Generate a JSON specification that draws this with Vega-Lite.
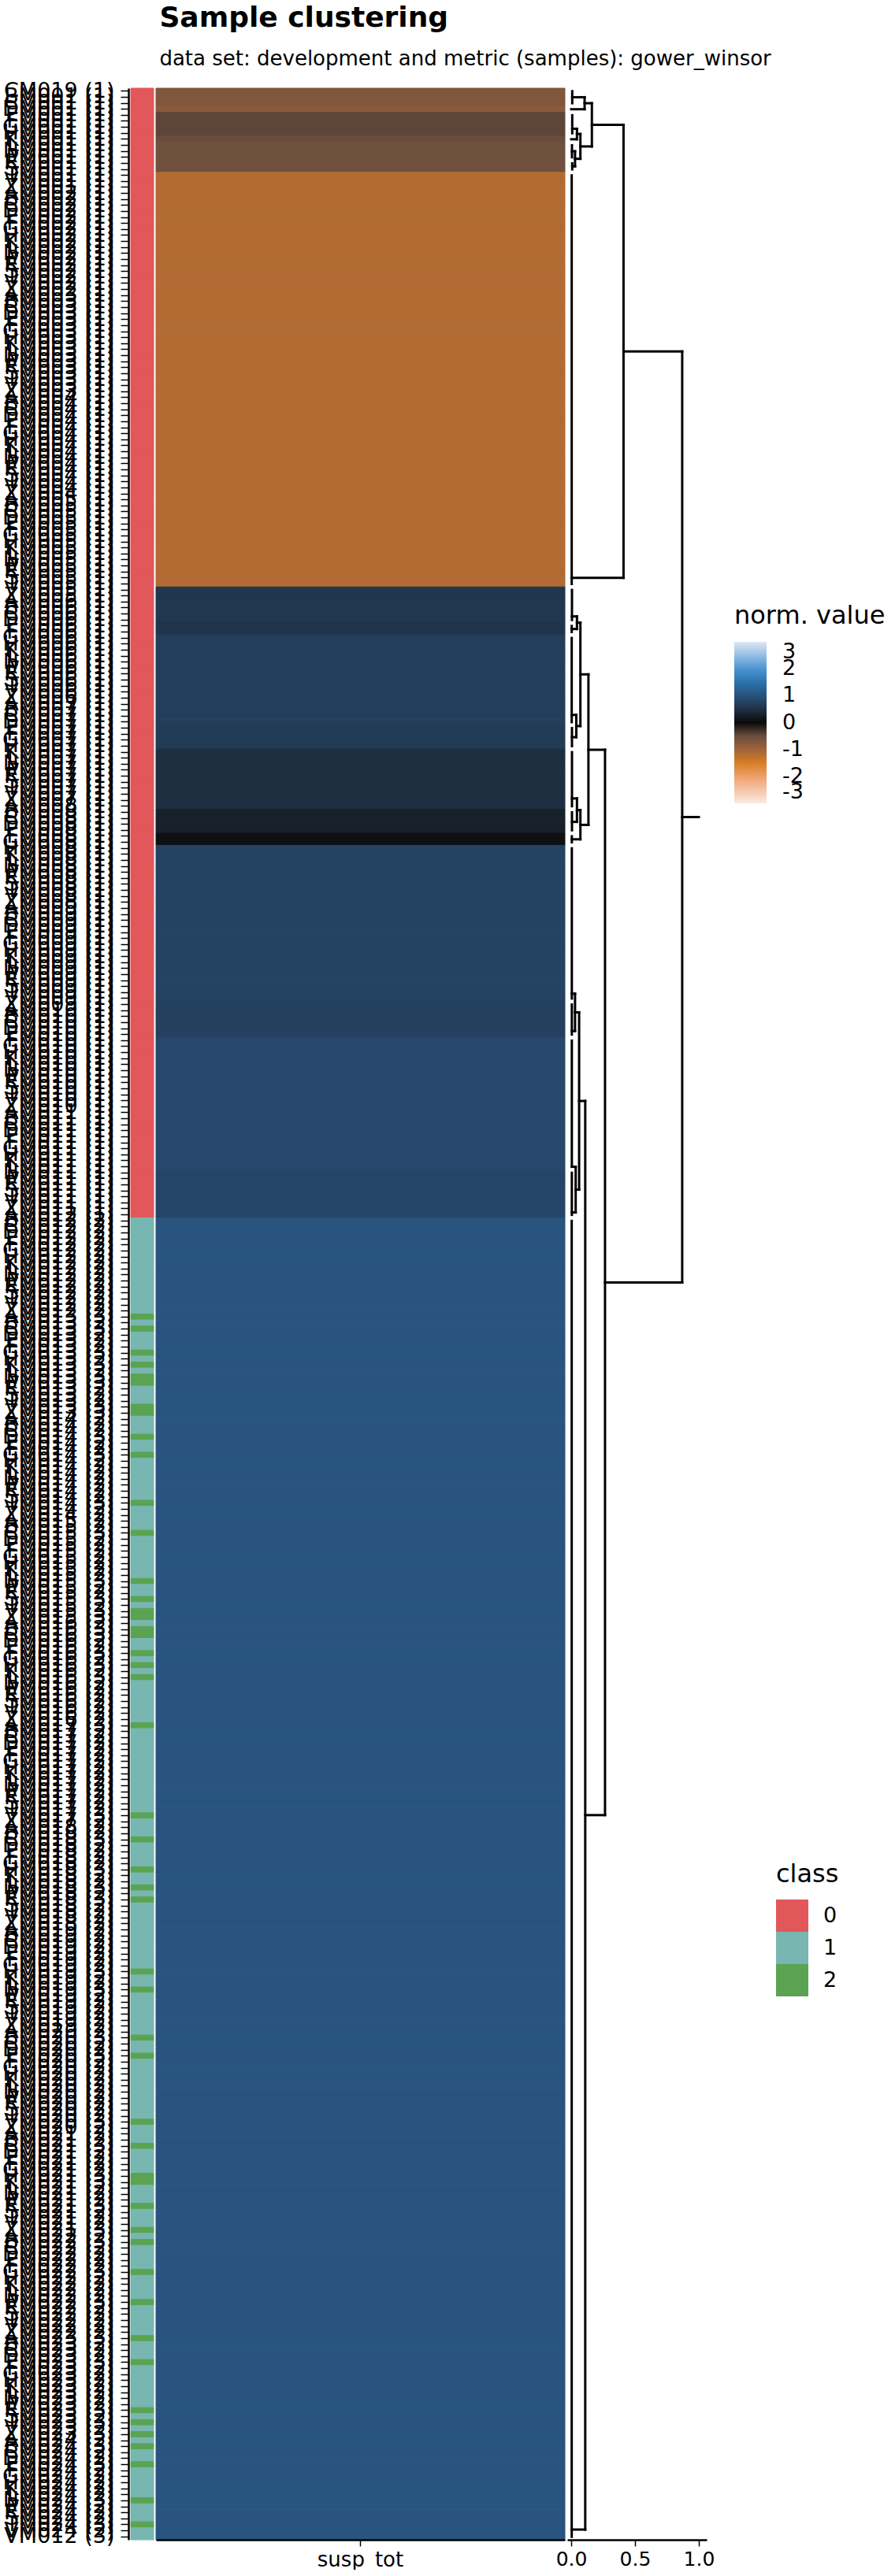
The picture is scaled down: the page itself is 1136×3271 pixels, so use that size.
{
"$schema": "https://vega.github.io/schema/vega-lite/v6.json",
"background": "white",
"padding": {"left": 2, "top": 5, "right": 0, "bottom": 0},
"title": {"text": "Sample clustering", "subtitle": "data set: development and metric (samples): gower_winsor", "anchor": "start", "frame": "bounds", "dx": 200, "offset": 12, "fontSize": 36, "fontWeight": "bold", "font": "DejaVu Sans", "color": "black", "subtitleFont": "DejaVu Sans", "subtitleFontSize": 26, "subtitleColor": "black", "subtitlePadding": 20},
"datasets": {
"samples": [
{"s":"CM019 (1)","c":"0","v":-0.7},{"s":"BM001 (1)","c":"0","v":-0.7},{"s":"CM001 (1)","c":"0","v":-0.7},{"s":"DM001 (1)","c":"0","v":-0.8},{"s":"EM001 (1)","c":"0","v":-0.44},{"s":"FM001 (1)","c":"0","v":-0.44},{"s":"GM001 (1)","c":"0","v":-0.44},{"s":"HM001 (1)","c":"0","v":-0.44},{"s":"KM001 (1)","c":"0","v":-0.5},{"s":"LM001 (1)","c":"0","v":-0.56},{"s":"NM001 (1)","c":"0","v":-0.56},{"s":"PM001 (1)","c":"0","v":-0.56},{"s":"RM001 (1)","c":"0","v":-0.56},{"s":"SM001 (1)","c":"0","v":-0.56},{"s":"TM001 (1)","c":"0","v":-1.15},{"s":"VM001 (1)","c":"0","v":-1.15},{"s":"ZM001 (1)","c":"0","v":-1.15},
{"s":"AM002 (1)","c":"0","v":-1.15},{"s":"BM002 (1)","c":"0","v":-1.15},{"s":"CM002 (1)","c":"0","v":-1.15},{"s":"DM002 (1)","c":"0","v":-1.15},{"s":"EM002 (1)","c":"0","v":-1.15},{"s":"FM002 (1)","c":"0","v":-1.15},{"s":"GM002 (1)","c":"0","v":-1.15},{"s":"HM002 (1)","c":"0","v":-1.15},{"s":"KM002 (1)","c":"0","v":-1.15},{"s":"LM002 (1)","c":"0","v":-1.15},{"s":"NM002 (1)","c":"0","v":-1.15},{"s":"PM002 (1)","c":"0","v":-1.15},{"s":"RM002 (1)","c":"0","v":-1.15},{"s":"SM002 (1)","c":"0","v":-1.15},{"s":"TM002 (1)","c":"0","v":-1.15},{"s":"VM002 (1)","c":"0","v":-1.15},{"s":"ZM002 (1)","c":"0","v":-1.15},
{"s":"AM003 (1)","c":"0","v":-1.15},{"s":"BM003 (1)","c":"0","v":-1.15},{"s":"CM003 (1)","c":"0","v":-1.15},{"s":"DM003 (1)","c":"0","v":-1.15},{"s":"EM003 (1)","c":"0","v":-1.15},{"s":"FM003 (1)","c":"0","v":-1.15},{"s":"GM003 (1)","c":"0","v":-1.15},{"s":"HM003 (1)","c":"0","v":-1.15},{"s":"KM003 (1)","c":"0","v":-1.15},{"s":"LM003 (1)","c":"0","v":-1.15},{"s":"NM003 (1)","c":"0","v":-1.15},{"s":"PM003 (1)","c":"0","v":-1.15},{"s":"RM003 (1)","c":"0","v":-1.15},{"s":"SM003 (1)","c":"0","v":-1.15},{"s":"TM003 (1)","c":"0","v":-1.15},{"s":"VM003 (1)","c":"0","v":-1.15},{"s":"ZM003 (1)","c":"0","v":-1.15},
{"s":"AM004 (1)","c":"0","v":-1.15},{"s":"BM004 (1)","c":"0","v":-1.15},{"s":"CM004 (1)","c":"0","v":-1.15},{"s":"DM004 (1)","c":"0","v":-1.15},{"s":"EM004 (1)","c":"0","v":-1.15},{"s":"FM004 (1)","c":"0","v":-1.15},{"s":"GM004 (1)","c":"0","v":-1.15},{"s":"HM004 (1)","c":"0","v":-1.15},{"s":"KM004 (1)","c":"0","v":-1.15},{"s":"LM004 (1)","c":"0","v":-1.15},{"s":"NM004 (1)","c":"0","v":-1.15},{"s":"PM004 (1)","c":"0","v":-1.15},{"s":"RM004 (1)","c":"0","v":-1.15},{"s":"SM004 (1)","c":"0","v":-1.15},{"s":"TM004 (1)","c":"0","v":-1.15},{"s":"VM004 (1)","c":"0","v":-1.15},{"s":"ZM004 (1)","c":"0","v":-1.15},
{"s":"AM005 (1)","c":"0","v":-1.15},{"s":"BM005 (1)","c":"0","v":-1.15},{"s":"CM005 (1)","c":"0","v":-1.15},{"s":"DM005 (1)","c":"0","v":-1.15},{"s":"EM005 (1)","c":"0","v":-1.15},{"s":"FM005 (1)","c":"0","v":-1.15},{"s":"GM005 (1)","c":"0","v":-1.15},{"s":"HM005 (1)","c":"0","v":-1.15},{"s":"KM005 (1)","c":"0","v":-1.15},{"s":"LM005 (1)","c":"0","v":-1.15},{"s":"NM005 (1)","c":"0","v":-1.15},{"s":"PM005 (1)","c":"0","v":-1.15},{"s":"RM005 (1)","c":"0","v":-1.15},{"s":"SM005 (1)","c":"0","v":-1.15},{"s":"TM005 (1)","c":"0","v":-1.15},{"s":"VM005 (1)","c":"0","v":0.6},{"s":"ZM005 (1)","c":"0","v":0.6},
{"s":"AM006 (1)","c":"0","v":0.6},{"s":"BM006 (1)","c":"0","v":0.6},{"s":"CM006 (1)","c":"0","v":0.6},{"s":"DM006 (1)","c":"0","v":0.6},{"s":"EM006 (1)","c":"0","v":0.55},{"s":"FM006 (1)","c":"0","v":0.55},{"s":"GM006 (1)","c":"0","v":0.7},{"s":"HM006 (1)","c":"0","v":0.7},{"s":"KM006 (1)","c":"0","v":0.7},{"s":"LM006 (1)","c":"0","v":0.7},{"s":"NM006 (1)","c":"0","v":0.7},{"s":"PM006 (1)","c":"0","v":0.7},{"s":"RM006 (1)","c":"0","v":0.7},{"s":"SM006 (1)","c":"0","v":0.7},{"s":"TM006 (1)","c":"0","v":0.7},{"s":"VM006 (1)","c":"0","v":0.7},{"s":"ZM006 (1)","c":"0","v":0.7},
{"s":"AM007 (1)","c":"0","v":0.7},{"s":"BM007 (1)","c":"0","v":0.7},{"s":"CM007 (1)","c":"0","v":0.7},{"s":"DM007 (1)","c":"0","v":0.7},{"s":"EM007 (1)","c":"0","v":0.65},{"s":"FM007 (1)","c":"0","v":0.65},{"s":"GM007 (1)","c":"0","v":0.65},{"s":"HM007 (1)","c":"0","v":0.65},{"s":"KM007 (1)","c":"0","v":0.47},{"s":"LM007 (1)","c":"0","v":0.47},{"s":"NM007 (1)","c":"0","v":0.47},{"s":"PM007 (1)","c":"0","v":0.47},{"s":"RM007 (1)","c":"0","v":0.47},{"s":"SM007 (1)","c":"0","v":0.47},{"s":"TM007 (1)","c":"0","v":0.47},{"s":"VM007 (1)","c":"0","v":0.47},{"s":"ZM007 (1)","c":"0","v":0.47},
{"s":"AM008 (1)","c":"0","v":0.47},{"s":"BM008 (1)","c":"0","v":0.27},{"s":"CM008 (1)","c":"0","v":0.27},{"s":"DM008 (1)","c":"0","v":0.27},{"s":"EM008 (1)","c":"0","v":0.27},{"s":"FM008 (1)","c":"0","v":0.08},{"s":"GM008 (1)","c":"0","v":0.08},{"s":"HM008 (1)","c":"0","v":0.76},{"s":"KM008 (1)","c":"0","v":0.76},{"s":"LM008 (1)","c":"0","v":0.76},{"s":"NM008 (1)","c":"0","v":0.76},{"s":"PM008 (1)","c":"0","v":0.76},{"s":"RM008 (1)","c":"0","v":0.76},{"s":"SM008 (1)","c":"0","v":0.76},{"s":"TM008 (1)","c":"0","v":0.76},{"s":"VM008 (1)","c":"0","v":0.76},{"s":"ZM008 (1)","c":"0","v":0.76},
{"s":"AM009 (1)","c":"0","v":0.76},{"s":"BM009 (1)","c":"0","v":0.76},{"s":"CM009 (1)","c":"0","v":0.76},{"s":"DM009 (1)","c":"0","v":0.76},{"s":"EM009 (1)","c":"0","v":0.76},{"s":"FM009 (1)","c":"0","v":0.76},{"s":"GM009 (1)","c":"0","v":0.76},{"s":"HM009 (1)","c":"0","v":0.76},{"s":"KM009 (1)","c":"0","v":0.76},{"s":"LM009 (1)","c":"0","v":0.76},{"s":"NM009 (1)","c":"0","v":0.76},{"s":"PM009 (1)","c":"0","v":0.76},{"s":"RM009 (1)","c":"0","v":0.76},{"s":"SM009 (1)","c":"0","v":0.76},{"s":"TM009 (1)","c":"0","v":0.76},{"s":"VM009 (1)","c":"0","v":0.76},{"s":"ZM009 (1)","c":"0","v":0.73},
{"s":"AM010 (1)","c":"0","v":0.73},{"s":"BM010 (1)","c":"0","v":0.73},{"s":"CM010 (1)","c":"0","v":0.73},{"s":"DM010 (1)","c":"0","v":0.73},{"s":"EM010 (1)","c":"0","v":0.73},{"s":"FM010 (1)","c":"0","v":0.85},{"s":"GM010 (1)","c":"0","v":0.85},{"s":"HM010 (1)","c":"0","v":0.85},{"s":"KM010 (1)","c":"0","v":0.85},{"s":"LM010 (1)","c":"0","v":0.85},{"s":"NM010 (1)","c":"0","v":0.85},{"s":"PM010 (1)","c":"0","v":0.85},{"s":"RM010 (1)","c":"0","v":0.85},{"s":"SM010 (1)","c":"0","v":0.85},{"s":"TM010 (1)","c":"0","v":0.85},{"s":"VM010 (1)","c":"0","v":0.85},{"s":"ZM010 (1)","c":"0","v":0.85},
{"s":"AM011 (1)","c":"0","v":0.85},{"s":"BM011 (1)","c":"0","v":0.85},{"s":"CM011 (1)","c":"0","v":0.85},{"s":"DM011 (1)","c":"0","v":0.85},{"s":"EM011 (1)","c":"0","v":0.85},{"s":"FM011 (1)","c":"0","v":0.85},{"s":"GM011 (1)","c":"0","v":0.85},{"s":"HM011 (1)","c":"0","v":0.85},{"s":"KM011 (1)","c":"0","v":0.85},{"s":"LM011 (1)","c":"0","v":0.85},{"s":"NM011 (1)","c":"0","v":0.8},{"s":"PM011 (1)","c":"0","v":0.8},{"s":"RM011 (1)","c":"0","v":0.8},{"s":"SM011 (1)","c":"0","v":0.8},{"s":"TM011 (1)","c":"0","v":0.8},{"s":"VM011 (1)","c":"0","v":0.8},{"s":"ZM011 (1)","c":"0","v":0.8},
{"s":"AM012 (1)","c":"0","v":0.8},{"s":"BM012 (2)","c":"1","v":1.03},{"s":"CM012 (2)","c":"1","v":1.03},{"s":"DM012 (2)","c":"1","v":1.03},{"s":"EM012 (2)","c":"1","v":1.03},{"s":"FM012 (2)","c":"1","v":1.03},{"s":"GM012 (2)","c":"1","v":1.03},{"s":"HM012 (2)","c":"1","v":1.03},{"s":"KM012 (2)","c":"1","v":1.03},{"s":"LM012 (2)","c":"1","v":1.03},{"s":"NM012 (2)","c":"1","v":1.03},{"s":"PM012 (2)","c":"1","v":1.03},{"s":"RM012 (2)","c":"1","v":1.03},{"s":"SM012 (2)","c":"1","v":1.03},{"s":"TM012 (2)","c":"1","v":1.03},{"s":"VM012 (2)","c":"1","v":1.03},{"s":"ZM012 (2)","c":"1","v":1.03},
{"s":"AM013 (3)","c":"2","v":1.03},{"s":"BM013 (2)","c":"1","v":1.03},{"s":"CM013 (3)","c":"2","v":1.03},{"s":"DM013 (2)","c":"1","v":1.03},{"s":"EM013 (2)","c":"1","v":1.03},{"s":"FM013 (2)","c":"1","v":1.03},{"s":"GM013 (3)","c":"2","v":1.03},{"s":"HM013 (2)","c":"1","v":1.03},{"s":"KM013 (3)","c":"2","v":1.03},{"s":"LM013 (2)","c":"1","v":1.03},{"s":"NM013 (3)","c":"2","v":1.03},{"s":"PM013 (3)","c":"2","v":1.03},{"s":"RM013 (2)","c":"1","v":1.03},{"s":"SM013 (2)","c":"1","v":1.03},{"s":"TM013 (2)","c":"1","v":1.03},{"s":"VM013 (3)","c":"2","v":1.03},{"s":"ZM013 (3)","c":"2","v":1.03},
{"s":"AM014 (2)","c":"1","v":1.03},{"s":"BM014 (2)","c":"1","v":1.03},{"s":"CM014 (2)","c":"1","v":1.03},{"s":"DM014 (3)","c":"2","v":1.03},{"s":"EM014 (2)","c":"1","v":1.03},{"s":"FM014 (2)","c":"1","v":1.03},{"s":"GM014 (3)","c":"2","v":1.03},{"s":"HM014 (2)","c":"1","v":1.03},{"s":"KM014 (2)","c":"1","v":1.03},{"s":"LM014 (2)","c":"1","v":1.03},{"s":"NM014 (2)","c":"1","v":1.03},{"s":"PM014 (2)","c":"1","v":1.03},{"s":"RM014 (2)","c":"1","v":1.03},{"s":"SM014 (2)","c":"1","v":1.03},{"s":"TM014 (3)","c":"2","v":1.03},{"s":"VM014 (2)","c":"1","v":1.03},{"s":"ZM014 (2)","c":"1","v":1.03},
{"s":"AM015 (2)","c":"1","v":1.03},{"s":"BM015 (2)","c":"1","v":1.03},{"s":"CM015 (3)","c":"2","v":1.03},{"s":"DM015 (2)","c":"1","v":1.03},{"s":"EM015 (2)","c":"1","v":1.03},{"s":"FM015 (2)","c":"1","v":1.03},{"s":"GM015 (2)","c":"1","v":1.03},{"s":"HM015 (2)","c":"1","v":1.03},{"s":"KM015 (2)","c":"1","v":1.03},{"s":"LM015 (2)","c":"1","v":1.03},{"s":"NM015 (3)","c":"2","v":1.03},{"s":"PM015 (2)","c":"1","v":1.03},{"s":"RM015 (2)","c":"1","v":1.03},{"s":"SM015 (3)","c":"2","v":1.03},{"s":"TM015 (2)","c":"1","v":1.03},{"s":"VM015 (3)","c":"2","v":1.03},{"s":"ZM015 (3)","c":"2","v":1.03},
{"s":"AM016 (2)","c":"1","v":1.03},{"s":"BM016 (3)","c":"2","v":1.03},{"s":"CM016 (3)","c":"2","v":1.03},{"s":"DM016 (2)","c":"1","v":1.03},{"s":"EM016 (2)","c":"1","v":1.03},{"s":"FM016 (3)","c":"2","v":1.03},{"s":"GM016 (2)","c":"1","v":1.03},{"s":"HM016 (3)","c":"2","v":1.03},{"s":"KM016 (2)","c":"1","v":1.03},{"s":"LM016 (3)","c":"2","v":1.03},{"s":"NM016 (2)","c":"1","v":1.03},{"s":"PM016 (2)","c":"1","v":1.03},{"s":"RM016 (2)","c":"1","v":1.03},{"s":"SM016 (2)","c":"1","v":1.03},{"s":"TM016 (2)","c":"1","v":1.03},{"s":"VM016 (2)","c":"1","v":1.03},{"s":"ZM016 (2)","c":"1","v":1.03},
{"s":"AM017 (3)","c":"2","v":1.03},{"s":"BM017 (2)","c":"1","v":1.03},{"s":"CM017 (2)","c":"1","v":1.03},{"s":"DM017 (2)","c":"1","v":1.03},{"s":"EM017 (2)","c":"1","v":1.03},{"s":"FM017 (2)","c":"1","v":1.03},{"s":"GM017 (2)","c":"1","v":1.03},{"s":"HM017 (2)","c":"1","v":1.03},{"s":"KM017 (2)","c":"1","v":1.03},{"s":"LM017 (2)","c":"1","v":1.03},{"s":"NM017 (2)","c":"1","v":1.03},{"s":"PM017 (2)","c":"1","v":1.03},{"s":"RM017 (2)","c":"1","v":1.03},{"s":"SM017 (2)","c":"1","v":1.03},{"s":"TM017 (2)","c":"1","v":1.03},{"s":"VM017 (3)","c":"2","v":1.03},{"s":"ZM017 (2)","c":"1","v":1.03},
{"s":"AM018 (2)","c":"1","v":1.03},{"s":"BM018 (2)","c":"1","v":1.03},{"s":"CM018 (3)","c":"2","v":1.03},{"s":"DM018 (2)","c":"1","v":1.03},{"s":"EM018 (2)","c":"1","v":1.03},{"s":"FM018 (2)","c":"1","v":1.03},{"s":"GM018 (2)","c":"1","v":1.03},{"s":"HM018 (3)","c":"2","v":1.03},{"s":"KM018 (2)","c":"1","v":1.03},{"s":"LM018 (2)","c":"1","v":1.03},{"s":"NM018 (3)","c":"2","v":1.03},{"s":"PM018 (2)","c":"1","v":1.03},{"s":"RM018 (3)","c":"2","v":1.03},{"s":"SM018 (2)","c":"1","v":1.03},{"s":"TM018 (2)","c":"1","v":1.03},{"s":"VM018 (2)","c":"1","v":1.03},{"s":"ZM018 (2)","c":"1","v":1.03},
{"s":"AM019 (2)","c":"1","v":1.03},{"s":"BM019 (2)","c":"1","v":1.03},{"s":"CM019 (2)","c":"1","v":1.03},{"s":"DM019 (2)","c":"1","v":1.03},{"s":"EM019 (2)","c":"1","v":1.03},{"s":"FM019 (2)","c":"1","v":1.03},{"s":"GM019 (2)","c":"1","v":1.03},{"s":"HM019 (3)","c":"2","v":1.03},{"s":"KM019 (2)","c":"1","v":1.03},{"s":"LM019 (2)","c":"1","v":1.03},{"s":"NM019 (3)","c":"2","v":1.03},{"s":"PM019 (2)","c":"1","v":1.03},{"s":"RM019 (2)","c":"1","v":1.03},{"s":"SM019 (2)","c":"1","v":1.03},{"s":"TM019 (2)","c":"1","v":1.03},{"s":"VM019 (2)","c":"1","v":1.03},{"s":"ZM019 (2)","c":"1","v":1.03},
{"s":"AM020 (2)","c":"1","v":1.03},{"s":"BM020 (3)","c":"2","v":1.03},{"s":"CM020 (2)","c":"1","v":1.03},{"s":"DM020 (2)","c":"1","v":1.03},{"s":"EM020 (3)","c":"2","v":1.03},{"s":"FM020 (2)","c":"1","v":1.03},{"s":"GM020 (2)","c":"1","v":1.03},{"s":"HM020 (2)","c":"1","v":1.03},{"s":"KM020 (2)","c":"1","v":1.03},{"s":"LM020 (2)","c":"1","v":1.03},{"s":"NM020 (2)","c":"1","v":1.03},{"s":"PM020 (2)","c":"1","v":1.03},{"s":"RM020 (2)","c":"1","v":1.03},{"s":"SM020 (2)","c":"1","v":1.03},{"s":"TM020 (2)","c":"1","v":1.03},{"s":"VM020 (3)","c":"2","v":1.03},{"s":"ZM020 (2)","c":"1","v":1.03},
{"s":"AM021 (2)","c":"1","v":1.03},{"s":"BM021 (2)","c":"1","v":1.03},{"s":"CM021 (3)","c":"2","v":1.03},{"s":"DM021 (2)","c":"1","v":1.03},{"s":"EM021 (2)","c":"1","v":1.03},{"s":"FM021 (2)","c":"1","v":1.03},{"s":"GM021 (2)","c":"1","v":1.03},{"s":"HM021 (3)","c":"2","v":1.03},{"s":"KM021 (3)","c":"2","v":1.03},{"s":"LM021 (2)","c":"1","v":1.03},{"s":"NM021 (2)","c":"1","v":1.03},{"s":"PM021 (2)","c":"1","v":1.03},{"s":"RM021 (3)","c":"2","v":1.03},{"s":"SM021 (2)","c":"1","v":1.03},{"s":"TM021 (2)","c":"1","v":1.03},{"s":"VM021 (2)","c":"1","v":1.03},{"s":"ZM021 (3)","c":"2","v":1.03},
{"s":"AM022 (2)","c":"1","v":1.03},{"s":"BM022 (3)","c":"2","v":1.03},{"s":"CM022 (2)","c":"1","v":1.03},{"s":"DM022 (2)","c":"1","v":1.03},{"s":"EM022 (2)","c":"1","v":1.03},{"s":"FM022 (2)","c":"1","v":1.03},{"s":"GM022 (3)","c":"2","v":1.03},{"s":"HM022 (2)","c":"1","v":1.03},{"s":"KM022 (2)","c":"1","v":1.03},{"s":"LM022 (2)","c":"1","v":1.03},{"s":"NM022 (2)","c":"1","v":1.03},{"s":"PM022 (3)","c":"2","v":1.03},{"s":"RM022 (2)","c":"1","v":1.03},{"s":"SM022 (2)","c":"1","v":1.03},{"s":"TM022 (2)","c":"1","v":1.03},{"s":"VM022 (2)","c":"1","v":1.03},{"s":"ZM022 (2)","c":"1","v":1.03},
{"s":"AM023 (3)","c":"2","v":1.03},{"s":"BM023 (2)","c":"1","v":1.03},{"s":"CM023 (2)","c":"1","v":1.03},{"s":"DM023 (2)","c":"1","v":1.03},{"s":"EM023 (3)","c":"2","v":1.03},{"s":"FM023 (2)","c":"1","v":1.03},{"s":"GM023 (2)","c":"1","v":1.03},{"s":"HM023 (2)","c":"1","v":1.03},{"s":"KM023 (2)","c":"1","v":1.03},{"s":"LM023 (2)","c":"1","v":1.03},{"s":"NM023 (2)","c":"1","v":1.03},{"s":"PM023 (2)","c":"1","v":1.03},{"s":"RM023 (3)","c":"2","v":1.03},{"s":"SM023 (2)","c":"1","v":1.03},{"s":"TM023 (3)","c":"2","v":1.03},{"s":"VM023 (2)","c":"1","v":1.03},{"s":"ZM023 (3)","c":"2","v":1.03},
{"s":"AM024 (2)","c":"1","v":1.03},{"s":"BM024 (3)","c":"2","v":1.03},{"s":"CM024 (2)","c":"1","v":1.03},{"s":"DM024 (2)","c":"1","v":1.03},{"s":"EM024 (3)","c":"2","v":1.03},{"s":"FM024 (2)","c":"1","v":1.03},{"s":"GM024 (2)","c":"1","v":1.03},{"s":"HM024 (2)","c":"1","v":1.03},{"s":"KM024 (2)","c":"1","v":1.03},{"s":"LM024 (2)","c":"1","v":1.03},{"s":"NM024 (3)","c":"2","v":1.03},{"s":"PM024 (2)","c":"1","v":1.03},{"s":"RM024 (2)","c":"1","v":1.03},{"s":"SM024 (2)","c":"1","v":1.03},{"s":"TM024 (3)","c":"2","v":1.03},{"s":"VM024 (2)","c":"1","v":1.03},{"s":"VM012 (3)","c":"1","v":1.03}
],
"seg": [
{"h1":0.008,"h2":0.008,"r1":0,"r2":2},{"h1":0.008,"h2":0.008,"r1":4,"r2":7},{"h1":0.006,"h2":0.006,"r1":9,"r2":11},{"h1":0.008,"h2":0.008,"r1":12,"r2":13},{"h1":0.004,"h2":0.004,"r1":14,"r2":82},{"h1":0.006,"h2":0.006,"r1":83,"r2":88},{"h1":0.004,"h2":0.004,"r1":89,"r2":90},{"h1":0.004,"h2":0.004,"r1":91,"r2":105},{"h1":0.006,"h2":0.006,"r1":106,"r2":109},{"h1":0.006,"h2":0.006,"r1":110,"r2":119},{"h1":0.006,"h2":0.006,"r1":120,"r2":123},{"h1":0.005,"h2":0.005,"r1":124,"r2":125},{"h1":0.005,"h2":0.005,"r1":126,"r2":151},{"h1":0.005,"h2":0.005,"r1":152,"r2":157},{"h1":0.005,"h2":0.005,"r1":158,"r2":179},{"h1":0.005,"h2":0.005,"r1":180,"r2":187},{"h1":0.004,"h2":0.004,"r1":188,"r2":407},
{"h1":0.105,"h2":0.105,"r1":1,"r2":3},{"h1":0.008,"h2":0.105,"r1":1,"r2":1},{"h1":0,"h2":0.105,"r1":3,"r2":3},
{"h1":0.045,"h2":0.045,"r1":6.25,"r2":8},{"h1":0.008,"h2":0.045,"r1":6.25,"r2":6.25},{"h1":0,"h2":0.045,"r1":8,"r2":8},
{"h1":0.03,"h2":0.03,"r1":10,"r2":12.5},{"h1":0.006,"h2":0.03,"r1":10,"r2":10},{"h1":0.008,"h2":0.03,"r1":12.5,"r2":12.5},
{"h1":0.072,"h2":0.072,"r1":7.125,"r2":11.25},{"h1":0.045,"h2":0.072,"r1":7.125,"r2":7.125},{"h1":0.03,"h2":0.072,"r1":11.25,"r2":11.25},
{"h1":0.162,"h2":0.162,"r1":2,"r2":9.19},{"h1":0.105,"h2":0.162,"r1":2,"r2":2},{"h1":0.072,"h2":0.162,"r1":9.19,"r2":9.19},
{"h1":0.41,"h2":0.41,"r1":5.6,"r2":81},{"h1":0.162,"h2":0.41,"r1":5.6,"r2":5.6},{"h1":0.004,"h2":0.41,"r1":81,"r2":81},
{"h1":0.045,"h2":0.045,"r1":87.4,"r2":89.5},{"h1":0.006,"h2":0.045,"r1":87.4,"r2":87.4},{"h1":0.004,"h2":0.045,"r1":89.5,"r2":89.5},
{"h1":0.04,"h2":0.04,"r1":103.8,"r2":107.5},{"h1":0.004,"h2":0.04,"r1":103.8,"r2":103.8},{"h1":0.006,"h2":0.04,"r1":107.5,"r2":107.5},
{"h1":0.072,"h2":0.072,"r1":88.45,"r2":105.65},{"h1":0.045,"h2":0.072,"r1":88.45,"r2":88.45},{"h1":0.04,"h2":0.072,"r1":105.65,"r2":105.65},
{"h1":0.045,"h2":0.045,"r1":117.7,"r2":121.6},{"h1":0.006,"h2":0.045,"r1":117.7,"r2":117.7},{"h1":0.006,"h2":0.045,"r1":121.6,"r2":121.6},
{"h1":0.072,"h2":0.072,"r1":119.65,"r2":124.5},{"h1":0.045,"h2":0.072,"r1":119.65,"r2":119.65},{"h1":0.005,"h2":0.072,"r1":124.5,"r2":124.5},
{"h1":0.135,"h2":0.135,"r1":97.05,"r2":122.1},{"h1":0.072,"h2":0.135,"r1":97.05,"r2":97.05},{"h1":0.072,"h2":0.135,"r1":122.1,"r2":122.1},
{"h1":0.03,"h2":0.03,"r1":150.2,"r2":156.4},{"h1":0.005,"h2":0.03,"r1":150.2,"r2":150.2},{"h1":0.005,"h2":0.03,"r1":156.4,"r2":156.4},
{"h1":0.035,"h2":0.035,"r1":179,"r2":186.6},{"h1":0.005,"h2":0.035,"r1":179,"r2":179},{"h1":0.005,"h2":0.035,"r1":186.6,"r2":186.6},
{"h1":0.062,"h2":0.062,"r1":153.3,"r2":182.8},{"h1":0.03,"h2":0.062,"r1":153.3,"r2":153.3},{"h1":0.035,"h2":0.062,"r1":182.8,"r2":182.8},
{"h1":0.11,"h2":0.11,"r1":168.05,"r2":405.8},{"h1":0.062,"h2":0.11,"r1":168.05,"r2":168.05},{"h1":0.004,"h2":0.11,"r1":405.8,"r2":405.8},
{"h1":0.265,"h2":0.265,"r1":109.6,"r2":286.9},{"h1":0.135,"h2":0.265,"r1":109.6,"r2":109.6},{"h1":0.11,"h2":0.265,"r1":286.9,"r2":286.9},
{"h1":0.87,"h2":0.87,"r1":43.3,"r2":198.25},{"h1":0.41,"h2":0.87,"r1":43.3,"r2":43.3},{"h1":0.265,"h2":0.87,"r1":198.25,"r2":198.25},{"h1":0.87,"h2":1.0,"r1":120.8,"r2":120.8}
]
},
"spacing": 3,
"bounds": "flush",
"hconcat": [
{
"width": 29, "height": 3113,
"data": {"name": "samples"},
"mark": {"type": "rect", "strokeWidth": 1},
"encoding": {
"y": {"field": "s", "type": "nominal", "sort": null, "scale": {"paddingInner": 0, "paddingOuter": 0, "round": false},
"axis": {"title": null, "labelFontSize": 27, "labelColor": "black", "labelOverlap": false, "labelLimit": 0, "labelBound": false, "labelPadding": 8, "tickSize": 10, "tickWidth": 1.5, "tickColor": "black", "domainColor": "black", "domainWidth": 2.5, "offset": 3}},
"fill": {"field": "c", "type": "nominal", "scale": {"domain": ["0", "1", "2"], "range": ["#e1575a", "#77b6b1", "#5ba352"]},
"legend": {"orient": "none", "legendX": 819, "legendY": 2253, "title": "class", "titleFontSize": 32, "titleFontWeight": "normal", "titleColor": "black", "titleLimit": 400, "titlePadding": 15, "labelFontSize": 27, "labelColor": "black", "labelOffset": 19, "symbolType": "square", "symbolSize": 1681, "symbolStrokeWidth": 0, "symbolOpacity": 1, "rowPadding": 0}},
"stroke": {"field": "c", "type": "nominal", "scale": {"domain": ["0", "1", "2"], "range": ["#e1575a", "#77b6b1", "#5ba352"]}, "legend": null}
}
},
{
"width": 519, "height": 3113,
"data": {"name": "samples"},
"mark": {"type": "rect", "strokeWidth": 1},
"encoding": {
"x": {"datum": "susp_tot", "type": "nominal", "scale": {"paddingInner": 0, "paddingOuter": 0},
"axis": {"title": null, "orient": "bottom", "labelAngle": 0, "labelFontSize": 26, "labelColor": "black", "labelPadding": 4, "tickSize": 8, "tickWidth": 1.5, "tickColor": "black", "domainColor": "black", "domainWidth": 2.5}},
"y": {"field": "s", "type": "nominal", "sort": null, "scale": {"paddingInner": 0, "paddingOuter": 0, "round": false}, "axis": null},
"color": {"field": "v", "type": "quantitative",
"scale": {"domain": [-3, -2, -1.6, -1, -0.5, 0, 0.4, 1, 1.8, 2, 3], "range": ["#fbeae3", "#efa06a", "#e2831e", "#a0633a", "#6a4d3e", "#0a0a0a", "#1e2a3a", "#28527c", "#2b86cc", "#4c95d2", "#dde7f3"], "interpolate": "rgb"},
"legend": {"orient": "none", "legendX": 766, "legendY": 655, "title": "norm. value", "titleFontSize": 32, "titleFontWeight": "normal", "titleColor": "black", "titleLimit": 400, "titlePadding": 16, "direction": "vertical", "gradientLength": 205, "gradientThickness": 41, "gradientStrokeWidth": 0, "values": [3, 2, 1, 0, -1, -2, -3], "labelExpr": "'' + datum.value", "labelFontSize": 27, "labelColor": "black", "labelOffset": 20, "labelBaseline": "middle", "labelOverlap": false}},
"stroke": {"field": "v", "type": "quantitative",
"scale": {"domain": [-3, -2, -1.6, -1, -0.5, 0, 0.4, 1, 1.8, 2, 3], "range": ["#fbeae3", "#efa06a", "#e2831e", "#a0633a", "#6a4d3e", "#0a0a0a", "#1e2a3a", "#28527c", "#2b86cc", "#4c95d2", "#dde7f3"], "interpolate": "rgb"}, "legend": null}
}
},
{
"width": 177, "height": 3113,
"data": {"name": "seg"},
"mark": {"type": "rule", "color": "black", "strokeWidth": 3, "strokeCap": "square"},
"encoding": {
"x": {"field": "h1", "type": "quantitative", "scale": {"domain": [-0.031, 1.062], "nice": false, "zero": false},
"axis": {"title": null, "values": [0, 0.5, 1], "format": ".1f", "grid": false, "labelFontSize": 25, "labelColor": "black", "labelPadding": 4, "labelFlush": false, "tickSize": 8, "tickWidth": 1.5, "tickColor": "black", "domainColor": "black", "domainWidth": 2.5}},
"x2": {"field": "h2"},
"y": {"field": "r1", "type": "quantitative", "scale": {"domain": [-0.5, 407.5], "reverse": true, "nice": false, "zero": false}, "axis": null},
"y2": {"field": "r2"}
}
}
],
"resolve": {"scale": {"stroke": "independent", "fill": "shared", "color": "shared"}, "legend": {"stroke": "independent"}},
"config": {"view": {"stroke": null}, "font": "DejaVu Sans", "axis": {"grid": false, "labelFont": "DejaVu Sans"}, "legend": {"titleFont": "DejaVu Sans", "labelFont": "DejaVu Sans"}}
}
